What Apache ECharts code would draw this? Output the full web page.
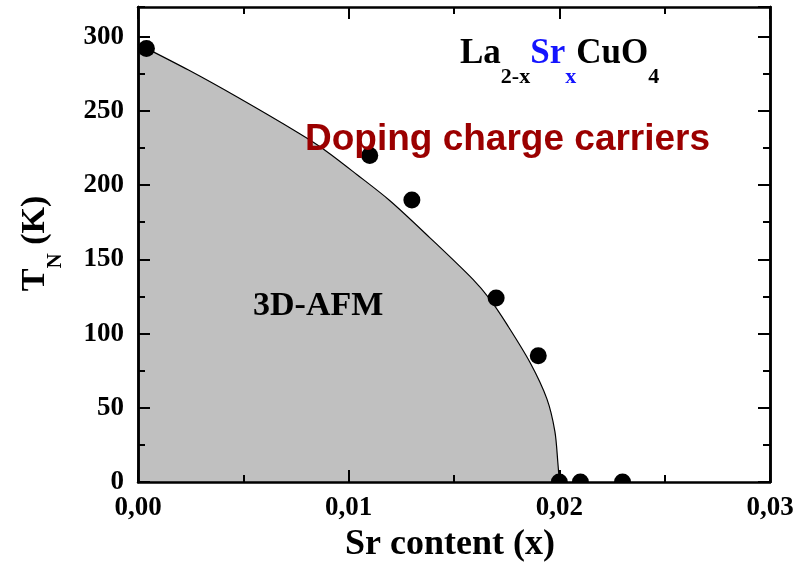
<!DOCTYPE html>
<html>
<head>
<meta charset="utf-8">
<script src="https://cdn.jsdelivr.net/npm/echarts@6/dist/echarts.min.js"></script>
<style>
html,body{margin:0;padding:0;background:#fff;}
#chart{width:812px;height:571px;}
</style>
</head>
<body>
<div id="chart"></div>
<script>
// Measured data points (Sr content x, T_N in K)
const pointX = [0.0004, 0.011, 0.013, 0.017, 0.019, 0.020, 0.021, 0.023];
const pointTN = [292, 220, 190, 124, 85, 0, 0, 0];
// Phase boundary curve
const curveX = [0, 0.0024, 0.00475, 0.0076, 0.00878, 0.0104, 0.01196, 0.01386, 0.0159, 0.01671, 0.01752, 0.01861, 0.01941, 0.01979, 0.01993, 0.0200];
const curveTN = [295, 277.5, 259, 235.3, 224.5, 207, 189.5, 164.5, 136.5, 123, 106, 80.5, 56, 34, 13, 0];
// Tick labels
const xTickValues = [0, 0.01, 0.02, 0.03];
const xTickLabels = ['0,00', '0,01', '0,02', '0,03'];
const yTickValues = [0, 50, 100, 150, 200, 250, 300];
const yTickLabels = ['0', '50', '100', '150', '200', '250', '300'];

const serif = 'Liberation Serif';
const black = '#000';

function xLabel(v) {
  for (let i = 0; i < xTickValues.length; i++) {
    if (Math.abs(v - xTickValues[i]) < 1e-9) return xTickLabels[i];
  }
  return '';
}
function yLabel(v) {
  for (let i = 0; i < yTickValues.length; i++) {
    if (Math.abs(v - yTickValues[i]) < 1e-9) return yTickLabels[i];
  }
  return '';
}

const axisLine = { show: true, onZero: false, lineStyle: { color: black, width: 2.5 } };
const labelStyle = { fontFamily: serif, fontWeight: 'bold', fontSize: 27, color: black };

function xAxisDef(pos, showLabel) {
  return {
    type: 'value', min: 0, max: 0.03, interval: 0.01, position: pos, z: 15,
    axisLine: axisLine,
    axisTick: { show: true, inside: true, length: 12, lineStyle: { color: black, width: 2 } },
    minorTick: { show: true, splitNumber: 2, length: 7, lineStyle: { color: black, width: 2 } },
    axisLabel: Object.assign({ show: showLabel, margin: 13, formatter: xLabel }, labelStyle),
    splitLine: { show: false }, minorSplitLine: { show: false }
  };
}
function yAxisMajor(pos, showLabel) {
  return {
    type: 'value', min: 0, max: 320, interval: 50, position: pos, z: 15,
    axisLine: axisLine,
    axisTick: { show: true, inside: true, length: 12, lineStyle: { color: black, width: 2 } },
    axisLabel: Object.assign({ show: showLabel, margin: 14, showMaxLabel: false, formatter: yLabel }, labelStyle),
    splitLine: { show: false }
  };
}
function yAxisMinor(pos) {
  return {
    type: 'value', min: 0, max: 320, interval: 25, position: pos, z: 15,
    axisLine: axisLine,
    axisTick: { show: true, inside: true, length: 7, lineStyle: { color: black, width: 2 } },
    axisLabel: { show: false },
    splitLine: { show: false }
  };
}

const chart = echarts.init(document.getElementById('chart'), null, { renderer: 'canvas' });
chart.setOption({
  animation: false,
  backgroundColor: '#fff',
  grid: { left: 138, right: 42, top: 7, bottom: 89, containLabel: false },
  xAxis: [xAxisDef('bottom', true), xAxisDef('top', false)],
  yAxis: [yAxisMajor('left', true), yAxisMinor('left'), yAxisMajor('right', false), yAxisMinor('right')],
  series: [
    {
      type: 'line', xAxisIndex: 0, yAxisIndex: 0, z: 2,
      data: curveX.map((x, i) => [x, curveTN[i]]),
      smooth: 0.3, showSymbol: false, symbol: 'none',
      lineStyle: { color: black, width: 1.2 },
      areaStyle: { color: '#c0c0c0', opacity: 1, origin: 'start' }
    },
    {
      type: 'scatter', xAxisIndex: 0, yAxisIndex: 0, z: 10,
      data: pointX.map((x, i) => [x, pointTN[i]]),
      symbol: 'circle', symbolSize: 17,
      itemStyle: { color: black, opacity: 1 }
    }
  ],
  graphic: [
    {
      // white mask below the plot frame so the points on the axis show as half discs
      type: 'rect', z: 12, silent: true,
      shape: { x: 120, y: 483, width: 680, height: 14 },
      style: { fill: '#fff' }
    },
    {
      type: 'text', x: 450, y: 545, z: 20,
      style: { text: 'Sr content (x)', fontFamily: serif, fontWeight: 'bold', fontSize: 36,
        fill: black, align: 'center', verticalAlign: 'middle', textAlign: 'center', textVerticalAlign: 'middle' }
    },
    {
      type: 'text', x: 18.5, y: 243.5, rotation: Math.PI / 2, z: 20,
      style: {
        text: '{m|T}{s|N}{m| (K)}', align: 'center', verticalAlign: 'top', textAlign: 'center', textVerticalAlign: 'top',
        fill: black,
        rich: {
          m: { fontFamily: serif, fontWeight: 'bold', fontSize: 34, lineHeight: 34, verticalAlign: 'top', fill: black, color: black },
          s: { fontFamily: serif, fontWeight: 'bold', fontSize: 21, lineHeight: 48, verticalAlign: 'bottom', fill: black, color: black }
        }
      }
    },
    {
      type: 'text', x: 460, y: 36.5, z: 20,
      style: {
        text: '{m|La}{s|2-x}{mb|Sr}{sb|x}{m|CuO}{s|4}', align: 'left', verticalAlign: 'top', textAlign: 'left', textVerticalAlign: 'top',
        fill: black,
        rich: {
          m: { fontFamily: serif, fontWeight: 'bold', fontSize: 35, lineHeight: 34, verticalAlign: 'top', fill: black, color: black },
          mb: { fontFamily: serif, fontWeight: 'bold', fontSize: 35, lineHeight: 34, verticalAlign: 'top', fill: '#1414ff', color: '#1414ff' },
          s: { fontFamily: serif, fontWeight: 'bold', fontSize: 22, lineHeight: 52, verticalAlign: 'bottom', fill: black, color: black },
          sb: { fontFamily: serif, fontWeight: 'bold', fontSize: 22, lineHeight: 52, verticalAlign: 'bottom', fill: '#1414ff', color: '#1414ff' }
        }
      }
    },
    {
      type: 'text', x: 305, y: 140, z: 20,
      style: { text: 'Doping charge carriers', fontFamily: 'Liberation Sans', fontWeight: 'bold', fontSize: 37,
        fill: '#9b0000', align: 'left', verticalAlign: 'middle', textAlign: 'left', textVerticalAlign: 'middle' }
    },
    {
      type: 'text', x: 253, y: 306, z: 20,
      style: { text: '3D-AFM', fontFamily: serif, fontWeight: 'bold', fontSize: 34,
        fill: black, align: 'left', verticalAlign: 'middle', textAlign: 'left', textVerticalAlign: 'middle' }
    }
  ]
});
</script>
</body>
</html>
